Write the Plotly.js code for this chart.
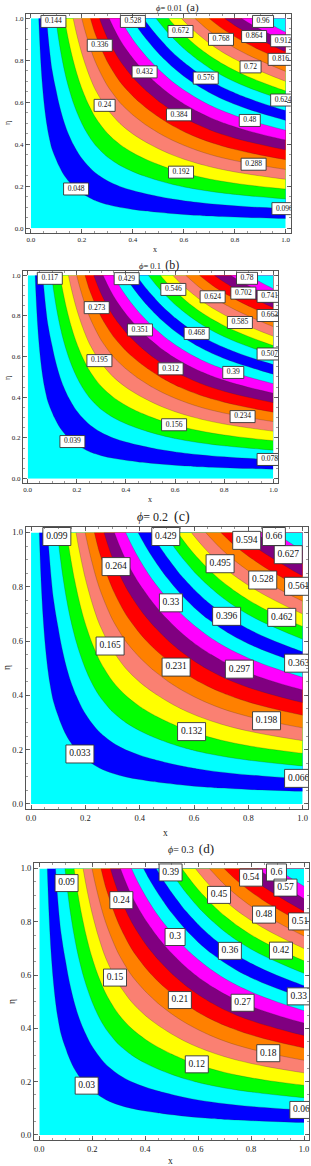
<!DOCTYPE html>
<html>
<head>
<meta charset="utf-8">
<script src="https://cdn.plot.ly/plotly-3.0.1.min.js"></script>
<style>
html,body{margin:0;padding:0;background:#ffffff;}
#chart{width:311px;height:1166px;}
</style>
</head>
<body>
<div id="chart"></div>
<script>
// ---------------- DATA ----------------
// grid of x and eta positions where the field was read
const xGrid   = [0,0.02,0.04,0.06,0.08,0.10,0.13,0.16,0.20,0.25,0.30,0.35,0.40,0.45,0.50,0.55,0.60,0.65,0.70,0.75,0.80,0.85,0.90,0.95,1.00];
const etaGrid = [0,0.02,0.04,0.06,0.08,0.10,0.13,0.16,0.20,0.25,0.30,0.35,0.40,0.45,0.50,0.55,0.60,0.65,0.70,0.75,0.80,0.85,0.90,0.95,1.00];
// field value along the top edge (eta = 1) of panel (a)
const topEdge   = [0,0.032,0.063,0.094,0.124,0.148,0.190,0.232,0.289,0.360,0.424,0.482,0.534,0.584,0.633,0.682,0.729,0.774,0.817,0.857,0.894,0.929,0.962,0.995,1.028];
// field value along the right edge (x = 1) of panel (a)
const rightEdge = [0,0.021,0.041,0.062,0.082,0.103,0.134,0.164,0.206,0.257,0.308,0.360,0.411,0.463,0.514,0.565,0.617,0.668,0.720,0.771,0.822,0.874,0.925,0.977,1.028];
// panels
const phiValues   = [0.01, 0.1, 0.2, 0.3];
const panelTags   = ['(a)', '(b)', '(c)', '(d)'];
const contourStep = [0.048, 0.039, 0.033, 0.03];
const cornerValue = [1.028, 0.835, 0.707, 0.643];   // field value at x=1, eta=1
const levelCount  = 20;
const tickValues  = [0, 0.2, 0.4, 0.6, 0.8, 1.0];
const tickText    = ['0.0', '0.2', '0.4', '0.6', '0.8', '1.0'];

// ---------------- STYLE / LAYOUT ----------------
const bandColors = ['#00FFFF','#0000FF','#00FFFF','#00FF00','#FFFF00','#FA8072','#FF8000','#FF0000','#800080','#FF00FF',
                    '#00FFFF','#0000FF','#00FFFF','#00FF00','#FFFF00','#FA8072','#FF8000','#FF0000','#800080','#FF00FF','#00FFFF'];
const W = 311, H = 1166, PAD = 0.02;
const panelFrame = [           // frame position in px
  {l:25.9, r:290.8, t:14.1,  b:232.5},
  {l:22.8, r:278.2, t:271.2, b:482.7},
  {l:25.6, r:308.1, t:527.0, b:809.4},
  {l:34.0, r:309.3, t:863.1, b:1140.3}
];
// x position where each contour label (levels 1..20) sits
const labelX = [
  [0.177,0.995,0.088,0.589,0.289,0.874,0.270,0.581,0.446,0.859,0.400,0.686,0.990,0.587,0.862,0.746,0.980,0.876,0.990,0.911],
  [0.182,0.985,0.090,0.596,0.292,0.875,0.281,0.582,0.457,0.837,0.403,0.688,0.985,0.593,0.864,0.753,0.985,0.878,0.985,0.893],
  [0.180,0.985,0.095,0.591,0.291,0.867,0.534,0.313,0.767,0.515,0.985,0.720,0.496,0.923,0.696,0.853,0.985,0.794,0.947,0.894],
  [0.179,0.990,0.103,0.595,0.286,0.865,0.531,0.310,0.768,0.513,0.980,0.720,0.496,0.913,0.679,0.849,0.985,0.800,0.930,0.896]
];
const labelFontSize = [7.5, 7.5, 9.5, 9.5];
const boxHeight     = [12, 12, 18, 17];
const tickFontSize  = [7, 7, 8.5, 8.5];
const titleSpec = [
  {cx:177, cy:7,   a:8.5, b:11},
  {cx:159, cy:265, a:8.5, b:12},
  {cx:164, cy:517, a:12,  b:14},
  {cx:191, cy:848, a:10,  b:13}
];
const xTitlePos   = [{x:155,y:250},{x:150,y:499},{x:165,y:833},{x:170,y:1161}];
const etaTitlePos = [{x:7,y:123},{x:7,y:378},{x:7,y:668},{x:12,y:1002}];
const serif = 'Liberation Serif, Times New Roman, serif';

// discrete colour scale: band k coloured at k/20
const colorscale = [];
const nb = bandColors.length;
for (let k = 0; k < nb; k++) {
  const a = k === 0 ? 0 : (k - 0.5) / (nb - 1);
  const b = k === nb - 1 ? 1 : (k + 0.5) / (nb - 1);
  colorscale.push([a, bandColors[k]]);
  colorscale.push([b, bandColors[k]]);
}

function interp(xs, ys, x) {
  if (x <= xs[0]) return ys[0];
  for (let i = 1; i < xs.length; i++) {
    if (x <= xs[i]) { const t = (x - xs[i-1]) / (xs[i] - xs[i-1]); return ys[i-1] + t * (ys[i] - ys[i-1]); }
  }
  return ys[ys.length - 1];
}

const data = [];
const layout = {
  width: W, height: H,
  margin: {l:0, r:0, t:0, b:0},
  paper_bgcolor: '#ffffff', plot_bgcolor: '#ffffff',
  showlegend: false, annotations: []
};

const nX = xGrid.length - 1, nE = etaGrid.length - 1;

phiValues.forEach((phi, p) => {
  const sfx = p === 0 ? '' : String(p + 1);
  const xa = 'x' + sfx, ya = 'y' + sfx;
  const f = panelFrame[p];
  const step = contourStep[p];

  // field table for this panel
  const z = etaGrid.map((e, i) => xGrid.map((x, j) =>
    cornerValue[p] * (topEdge[j] / topEdge[nX]) * (rightEdge[i] / rightEdge[nE])));

  data.push({
    type: 'contour', x: xGrid, y: etaGrid, z: z, xaxis: xa, yaxis: ya,
    autocontour: false,
    contours: {start: step, end: step * levelCount, size: step, coloring: 'fill', showlines: true},
    colorscale: colorscale, showscale: false,
    line: {width: 0.5, color: 'rgba(40,40,40,0.45)', smoothing: 1},
    hoverinfo: 'skip'
  });

  // contour labels
  const dxPx = (1 + 2 * PAD) / (f.r - f.l);
  const dyPx = (1 + 2 * PAD) / (f.b - f.t);
  const bx = [], by = [], tx = [], ty = [], tt = [];
  for (let k = 1; k <= levelCount; k++) {
    const level = +(k * step).toFixed(4);
    const lx = labelX[p][k - 1];
    const colTop = cornerValue[p] * interp(xGrid, topEdge, lx) / topEdge[nX];
    const col = rightEdge.map(v => colTop * v / rightEdge[nE]);
    let le = 0.985;
    for (let i = 1; i < col.length; i++) {
      if (level <= col[i]) { const t = (level - col[i-1]) / (col[i] - col[i-1]); le = etaGrid[i-1] + t * (etaGrid[i] - etaGrid[i-1]); break; }
    }
    le = Math.min(le, 0.985);
    const txt = String(level);
    const wpx = p < 2 ? 5 + 4 * txt.length : Math.max(20, 3 + 5 * txt.length);
    const hw = wpx / 2 * dxPx, hh = boxHeight[p] / 2 * dyPx;
    bx.push(lx - hw, lx + hw, lx + hw, lx - hw, lx - hw, null);
    by.push(le - hh, le - hh, le + hh, le + hh, le - hh, null);
    tx.push(lx); ty.push(le); tt.push(txt);
  }
  data.push({
    type: 'scatter', mode: 'lines', x: bx, y: by, xaxis: xa, yaxis: ya,
    fill: 'toself', fillcolor: '#ffffff', line: {color: '#333333', width: 0.9},
    hoverinfo: 'skip', cliponaxis: true, connectgaps: false
  });
  data.push({
    type: 'scatter', mode: 'text', x: tx, y: ty, text: tt, xaxis: xa, yaxis: ya,
    textposition: 'middle center', textfont: {family: serif, size: labelFontSize[p], color: '#111111'},
    hoverinfo: 'skip', cliponaxis: true
  });

  const axisCommon = {
    range: [-PAD, 1 + PAD], tickmode: 'array', tickvals: tickValues, ticktext: tickText,
    ticks: 'inside', ticklen: 4, tickwidth: 0.8, tickcolor: '#444444',
    showline: true, linecolor: '#555555', linewidth: 1, mirror: 'ticks',
    showgrid: false, zeroline: false, fixedrange: true,
    tickfont: {family: serif, size: tickFontSize[p], color: '#222222'},
    minor: {ticks: 'inside', ticklen: 2, tickwidth: 0.6, tickcolor: '#555555', dtick: 0.05, tick0: 0}
  };
  layout['xaxis' + sfx] = Object.assign({}, axisCommon, {
    domain: [f.l / W, f.r / W], anchor: ya
  });
  layout['yaxis' + sfx] = Object.assign({}, axisCommon, {
    domain: [1 - f.b / H, 1 - f.t / H], anchor: xa
  });

  const ts = titleSpec[p];
  layout.annotations.push({
    xref: 'paper', yref: 'paper', x: ts.cx / W, y: 1 - ts.cy / H, xanchor: 'center', yanchor: 'middle',
    showarrow: false,
    text: '<i>ϕ</i>= ' + phi + '  <span style="font-size:' + ts.b + 'px">' + panelTags[p] + '</span>',
    font: {family: serif, size: ts.a, color: '#222222'}
  });
  layout.annotations.push({
    xref: 'paper', yref: 'paper', x: xTitlePos[p].x / W, y: 1 - xTitlePos[p].y / H,
    xanchor: 'center', yanchor: 'middle', showarrow: false, text: 'x',
    font: {family: serif, size: tickFontSize[p] + 1, color: '#222222'}
  });
  layout.annotations.push({
    xref: 'paper', yref: 'paper', x: etaTitlePos[p].x / W, y: 1 - etaTitlePos[p].y / H,
    xanchor: 'center', yanchor: 'middle', showarrow: false, text: 'η', textangle: -90,
    font: {family: serif, size: tickFontSize[p] + 1, color: '#222222'}
  });
});

Plotly.newPlot('chart', data, layout, {staticPlot: true, displayModeBar: false});
</script>
</body>
</html>
